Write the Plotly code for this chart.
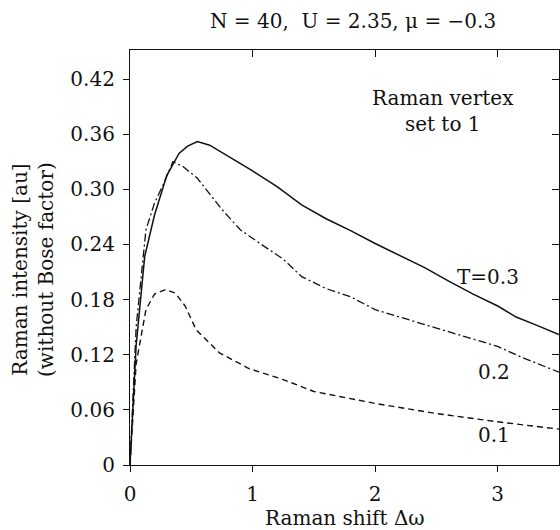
import plotly.graph_objects as go

# T = 0.3 (solid)
x_t03 = [0, 0.05, 0.12, 0.2, 0.3, 0.4, 0.47, 0.55, 0.65, 0.8, 1.0, 1.2, 1.4, 1.6, 1.8, 2.0, 2.2, 2.4, 2.6, 2.8, 3.0, 3.15, 3.3, 3.5]
y_t03 = [0, 0.13, 0.227, 0.272, 0.315, 0.339, 0.347, 0.352, 0.348, 0.336, 0.320, 0.303, 0.283, 0.268, 0.255, 0.241, 0.228, 0.215, 0.200, 0.186, 0.173, 0.161, 0.153, 0.142]
# T = 0.2 (dash-dot)
x_t02 = [0, 0.05, 0.13, 0.2, 0.27, 0.35, 0.43, 0.55, 0.75, 0.9, 1.05, 1.25, 1.4, 1.6, 1.8, 2.0, 2.5, 3.0, 3.2, 3.5]
y_t02 = [0, 0.15, 0.256, 0.285, 0.305, 0.330, 0.325, 0.312, 0.278, 0.256, 0.242, 0.224, 0.205, 0.192, 0.183, 0.169, 0.149, 0.129, 0.117, 0.101]
# T = 0.1 (dashed)
x_t01 = [0, 0.05, 0.13, 0.2, 0.29, 0.37, 0.45, 0.54, 0.73, 0.97, 1.25, 1.5, 2.0, 2.5, 3.0, 3.5]
y_t01 = [0, 0.11, 0.169, 0.186, 0.191, 0.187, 0.173, 0.147, 0.122, 0.105, 0.093, 0.080, 0.067, 0.056, 0.047, 0.039]

y_ticks = [0, 0.06, 0.12, 0.18, 0.24, 0.30, 0.36, 0.42]
y_ticklabels = ["0", "0.06", "0.12", "0.18", "0.24", "0.30", "0.36", "0.42"]
x_ticks = [0, 1, 2, 3]
x_ticklabels = ["0", "1", "2", "3"]

FONT = "DejaVu Serif"
C = "#111111"
FS = 20

fig = go.Figure()
fig.add_trace(go.Scatter(x=x_t03, y=y_t03, mode="lines", line=dict(color=C, width=1.5)))
fig.add_trace(go.Scatter(x=x_t02, y=y_t02, mode="lines", line=dict(color=C, width=1.3, dash="8px,3px,2px,3px")))
fig.add_trace(go.Scatter(x=x_t01, y=y_t01, mode="lines", line=dict(color=C, width=1.4, dash="6px,4px")))
# invisible trace for mirrored axes
fig.add_trace(go.Scatter(x=[0], y=[0], xaxis="x2", yaxis="y2", mode="markers", marker=dict(opacity=0), hoverinfo="skip"))

fig.update_layout(
    width=560, height=530,
    margin=dict(l=130, r=1, t=50, b=65),
    paper_bgcolor="white", plot_bgcolor="white",
    showlegend=False,
    font=dict(family=FONT, color=C, size=FS),
    xaxis=dict(range=[0, 3.5], tickvals=x_ticks, ticktext=x_ticklabels, ticks="outside", ticklen=6,
               tickcolor=C, showgrid=False, zeroline=False, showline=True, linecolor=C, linewidth=1.2,
               ticklabelstandoff=5, tickfont=dict(size=FS, family=FONT)),
    yaxis=dict(range=[0, 0.4516], tickvals=y_ticks, ticktext=y_ticklabels, ticks="outside", ticklen=6,
               tickcolor=C, showgrid=False, zeroline=False, showline=True, linecolor=C, linewidth=1.2,
               ticklabelstandoff=4, tickfont=dict(size=FS, family=FONT)),
    xaxis2=dict(range=[0, 3.5], overlaying="x", side="top", tickvals=x_ticks, ticks="inside", ticklen=7,
                tickcolor=C, showticklabels=False, showgrid=False, zeroline=False, showline=True, linecolor=C, linewidth=1.2),
    yaxis2=dict(range=[0, 0.4516], overlaying="y", side="right", tickvals=y_ticks, ticks="inside", ticklen=7,
                tickcolor=C, showticklabels=False, showgrid=False, zeroline=False, showline=True, linecolor=C, linewidth=1.2),
)

# title
fig.add_annotation(text="N = 40,  U = 2.35, μ = −0.3", xref="paper", yref="paper", x=0.52, y=1, yshift=29,
                   xanchor="center", yanchor="middle", showarrow=False, font=dict(size=FS, family=FONT))
# axis titles
fig.add_annotation(text="Raman shift Δω", xref="paper", yref="paper", x=0.5, y=0, yshift=-53,
                   xanchor="center", yanchor="middle", showarrow=False, font=dict(size=FS, family=FONT))
fig.add_annotation(text="Raman intensity [au]<br>(without Bose factor)", xref="paper", yref="paper",
                   x=0, y=0.47, xshift=-97, xanchor="center", yanchor="middle", textangle=-90,
                   showarrow=False, font=dict(size=FS, family=FONT))
# in-plot labels
fig.add_annotation(text="Raman vertex<br>set to 1", x=2.553, y=0.385, xanchor="center", yanchor="middle",
                   showarrow=False, font=dict(size=FS, family=FONT))
fig.add_annotation(text="T=0.3", x=2.92, y=0.205, xanchor="center", yanchor="middle", showarrow=False,
                   font=dict(size=FS, family=FONT))
fig.add_annotation(text="0.2", x=2.97, y=0.1015, xanchor="center", yanchor="middle", showarrow=False,
                   font=dict(size=FS, family=FONT))
fig.add_annotation(text="0.1", x=2.97, y=0.0327, xanchor="center", yanchor="middle", showarrow=False,
                   font=dict(size=FS, family=FONT))

fig.write_html("out.html")
